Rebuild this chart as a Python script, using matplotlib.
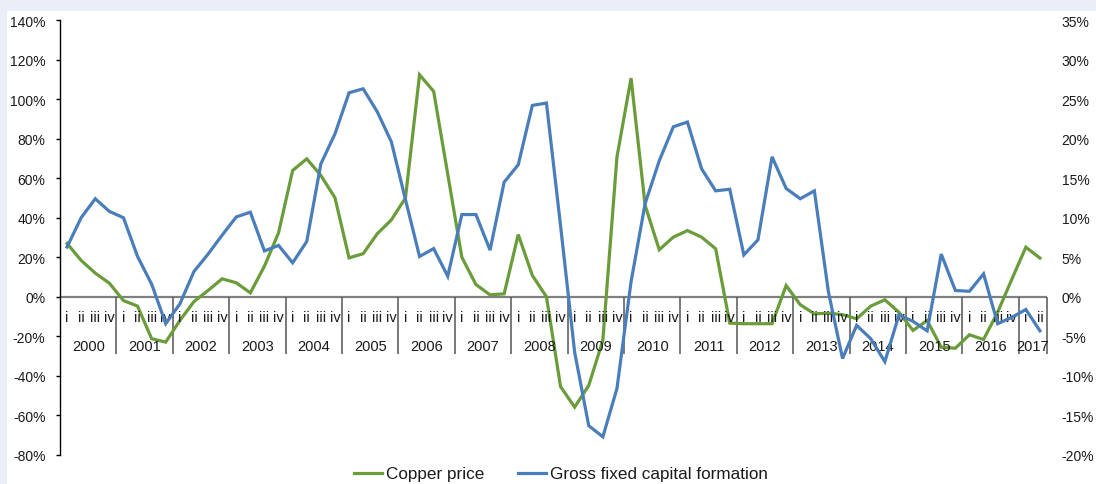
import matplotlib
matplotlib.use("Agg")
import matplotlib.pyplot as plt
from matplotlib.patches import Rectangle
from matplotlib.ticker import FuncFormatter, MultipleLocator

plt.rcParams['font.family'] = ['Liberation Sans', 'DejaVu Sans']

years = [str(y) for y in range(2000, 2018)]
quarters = ['i', 'ii', 'iii', 'iv']

copper = [27, 18.4, 12, 6.9,
          -1.9, -4.7, -21.2, -22.9,
          -12, -2.4, 3.2, 9.1,
          7.1, 2, 15.5, 32.4,
          63.9, 69.8, 61.4, 50.1,
          19.7, 21.8, 31.9, 38.9,
          50, 112.3, 103.9, 62,
          20, 6.2, 1, 1.5,
          31.5, 10.8, 0, -45.4,
          -55.8, -44.8, -22, 70.7,
          110.6, 46.2, 23.8, 30.2,
          33.5, 30.2, 24.3, -13.3,
          -13.6, -13.6, -13.6, 5.7,
          -4, -8.6, -8.3, -9,
          -11.1, -4.7, -1.5, -7.8,
          -17, -12, -25.5, -26,
          -19.2, -21.6, -7.8, 8.8,
          25.1, 19.6]

gfcf = [6.3, 10, 12.4, 10.8,
        10, 5.1, 1.6, -3.4,
        -0.9, 3.2, 5.4, 7.8,
        10.1, 10.7, 5.8, 6.5,
        4.3, 7, 16.8, 20.6,
        25.8, 26.3, 23.4, 19.6,
        12.3, 5.1, 6.1, 2.6,
        10.4, 10.4, 5.9, 14.5,
        16.7, 24.2, 24.5, 9,
        -7, -16.3, -17.7, -11.6,
        1.9, 11.8, 17.2, 21.5,
        22.1, 16.2, 13.4, 13.6,
        5.3, 7.2, 17.7, 13.7,
        12.4, 13.4, 0.6, -7.8,
        -3.6, -5.3, -8.2, -2.3,
        -3.1, -4.3, 5.4, 0.8,
        0.7, 2.9, -3.4, -2.6,
        -1.6, -4.3]

GREEN = '#6A9C3A'
BLUE = '#4A7EBB'
TXT = '#1a1a1a'

W, H = 1096, 485
fig = plt.figure(figsize=(W / 100, H / 100), dpi=100)
fig.patch.set_facecolor('#EAEEF7')
fig.patches.append(Rectangle((7 / W, 0), 1 - 7 / W, 1 - 12 / H,
                             transform=fig.transFigure, facecolor='white',
                             edgecolor='none', zorder=-10))

ax = fig.add_axes([60 / W, 1 - 456 / H, (1047 - 60) / W, (456 - 21) / H])
ax.set_facecolor('none')
n = len(copper)
x = list(range(n))

ax.plot(x, copper, color=GREEN, lw=2.3, solid_joinstyle='miter', label='Copper price', zorder=3)
ax.set_xlim(-0.5, n - 0.5)
ax.set_ylim(-80, 140)
ax.yaxis.set_major_locator(MultipleLocator(20))
ax.yaxis.set_major_formatter(FuncFormatter(lambda v, p: f'{v:.0f}%'))
ax.tick_params(axis='y', direction='out', length=3, width=1, pad=7.5,
               labelsize=10, labelcolor=TXT, color='black')
ax.set_xticks([])
for s in ['top', 'right', 'bottom']:
    ax.spines[s].set_visible(False)
ax.spines['left'].set_color('black')
ax.spines['left'].set_linewidth(1)

# category axis at zero
ax.axhline(0, color='#808080', lw=1.6, zorder=2)
for i in range(n):
    ax.text(i, -10.4, quarters[i % 4], ha='center', va='center',
            fontsize=10.5, color=TXT)
for j, yr in enumerate(years):
    start = 4 * j
    end = min(4 * j + 3, n - 1)
    ax.text((start + end) / 2, -24.8, yr, ha='center', va='center',
            fontsize=10.5, color=TXT)
seps = [4 * j - 0.5 for j in range(1, len(years))] + [n - 0.5]
ax.vlines(seps, -29, 0, color='#555555', lw=1.1, zorder=2, clip_on=False)

ax2 = ax.twinx()
ax2.set_facecolor('none')
ax2.plot(x, gfcf, color=BLUE, lw=2.3, solid_joinstyle='miter',
         label='Gross fixed capital formation', zorder=3)
ax2.set_ylim(-20, 35)
ax2.yaxis.set_major_locator(MultipleLocator(5))
ax2.yaxis.set_major_formatter(FuncFormatter(lambda v, p: f'{v:.0f}%'))
ax2.tick_params(axis='y', length=0, pad=10.5, labelsize=10, labelcolor=TXT)
for s in ax2.spines.values():
    s.set_visible(False)

h1, l1 = ax.get_legend_handles_labels()
h2, l2 = ax2.get_legend_handles_labels()
fig.legend(h1 + h2, l1 + l2, loc='center', bbox_to_anchor=(0.512, 1 - 475 / H),
           ncol=2, frameon=False, fontsize=12.3, handlelength=1.6,
           handletextpad=0.25, columnspacing=2.0, labelcolor=TXT)

fig.savefig('out.png', dpi=100, facecolor=fig.get_facecolor())
